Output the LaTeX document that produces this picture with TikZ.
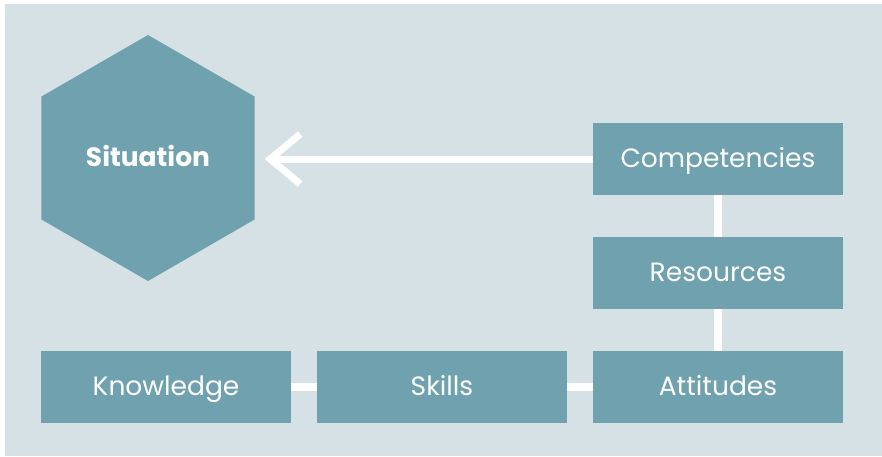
\documentclass[tikz,border=0pt]{standalone}
\usepackage{fontspec}
\setmainfont{Poppins}
\usetikzlibrary{shapes.geometric,arrows.meta}
\definecolor{panel}{HTML}{D6E1E5}
\definecolor{boxfill}{HTML}{6FA1AF}
\begin{document}
\begin{tikzpicture}[x=1pt,y=-1pt,
  label text/.style={text=white,inner sep=0pt,text height=20pt,text depth=4pt},
  block/.style={label text,fill=boxfill,minimum width=250pt,minimum height=72pt,
    font=\fontsize{26.5}{30}\selectfont},
  hexa/.style={label text,regular polygon,regular polygon sides=6,shape border rotate=30,
    fill=boxfill,minimum size=246pt,
    font=\fontsize{26.5}{30}\selectfont\bfseries},
  link/.style={white,line width=8pt},
  flow/.style={white,line width=7pt,-{Straight Barb[length=30pt,width=50pt,line cap=butt]}}]
  \useasboundingbox (0,0) rectangle (882,456);
  \fill[panel] (5,4) rectangle (882,456);
  % situation hexagon and resource blocks
  \node[hexa] (sit) at (148,158) {Situation};
  \node[block] (comp) at (718,159) {Competencies};
  \node[block] (res)  at (718,273) {Resources};
  \node[block] (att)  at (718,387) {Attitudes};
  \node[block] (skl)  at (442,387) {Skills};
  \node[block] (knw)  at (166,387) {Knowledge};
  % connectors
  \draw[link] (comp.south) -- (res.north);
  \draw[link] (res.south) -- (att.north);
  \draw[link] (att.west) -- (skl.east);
  \draw[link] (skl.west) -- (knw.east);
  \draw[flow,shorten >=10pt] (comp.west) -- (comp.west -| sit.east);
\end{tikzpicture}
\end{document}
